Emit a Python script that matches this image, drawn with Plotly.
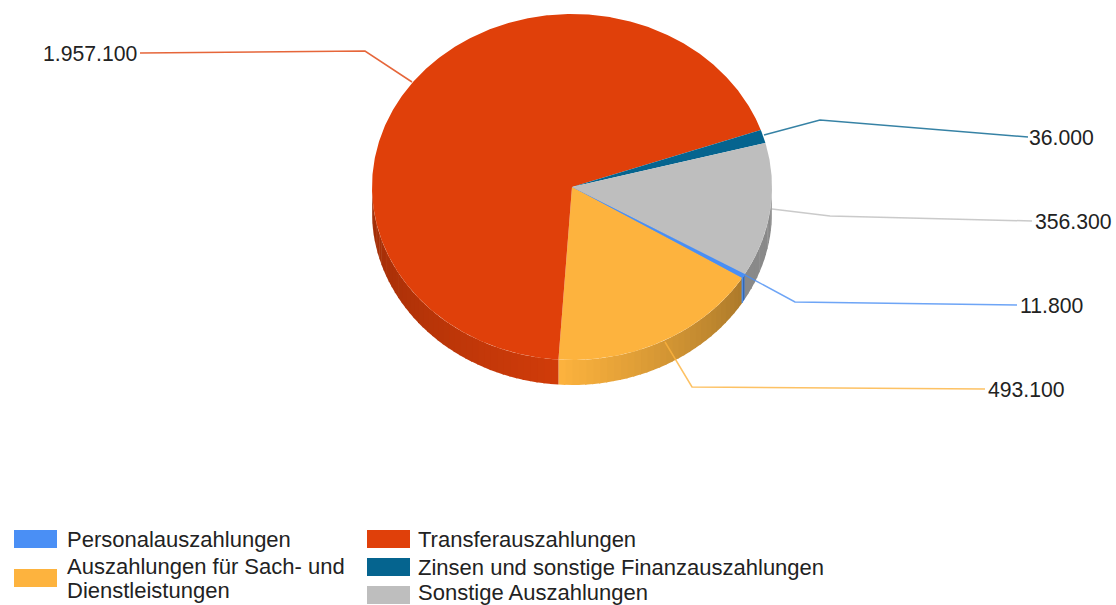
import numpy as np
import plotly.graph_objects as go

categories = ["Personalauszahlungen", "Auszahlungen für Sach- und<br>Dienstleistungen",
              "Transferauszahlungen", "Zinsen und sonstige Finanzauszahlungen", "Sonstige Auszahlungen"]
values = [11800, 493100, 1957100, 36000, 356300]
value_labels = ["11.800", "493.100", "1.957.100", "36.000", "356.300"]
colors = ["#4A8FF5", "#FDB33E", "#E0400A", "#05648F", "#BEBEBE"]

# pie geometry (axis units = pixels)
CX, CY, RX, RY, DEPTH, START = 572, 187, 200, 173, 25, 30.2
FONT = "Liberation Sans"
LABEL_SIZE = 21.2
LEGEND_SIZE = 22

leaders = [
    [(745, 275), (795, 302), (1017, 305)],
    [(665, 342), (692, 387), (985, 389)],
    [(412, 82), (365, 51), (140, 53)],
    [(764, 135), (820, 120), (1028, 137)],
    [(772, 209), (830, 216), (1032, 221)],
]
label_anchor = [(1018, 305, "left"), (986, 389, "left"), (139, 53, "right"), (1027, 137, "left"), (1033, 221, "left")]
# swatch x, swatch y, text x, text y of each line
legend_rows = [(14, 530, 65, [539]), (14, 569, 65, [566, 590]), (367, 530, 416, [539]),
               (367, 558, 416, [567]), (367, 586, 416, [592.5])]
# wall brightness at the slice's first and last wall angle
wall_shade = [(0.72, 0.72), (0.68, 1.0), (0.93, 0.70), (0.70, 0.70), (0.72, 0.72)]


def shade(hex_color, f):
    r, g, b = int(hex_color[1:3], 16), int(hex_color[3:5], 16), int(hex_color[5:7], 16)
    return f"rgb({r*f:.0f},{g*f:.0f},{b*f:.0f})"


def ex(a):
    return CX + RX * np.cos(np.radians(a))


def ey(a):
    return CY + RY * np.sin(np.radians(a))


fracs = np.array(values) / sum(values)
edges = START + np.concatenate([[0], np.cumsum(fracs)]) * 360

fig = go.Figure()

# side wall, drawn first: strips shaded along the arc
for i, (a0, a1) in enumerate(zip(edges[:-1], edges[1:])):
    for offset in (0, 360):
        lo, hi = max(a0, offset), min(a1, offset + 180)
        if hi <= lo:
            continue
        n = max(1, int((hi - lo) / 2))
        steps = np.linspace(lo, hi, n + 1)
        for k, (s0, s1) in enumerate(zip(steps[:-1], steps[1:])):
            t = (k + 0.5) / n
            f = wall_shade[i][0] + (wall_shade[i][1] - wall_shade[i][0]) * t
            arc = np.linspace(s0, min(s1 + 0.4, hi), 5)
            xs = np.concatenate([ex(arc), ex(arc[::-1])])
            ys = np.concatenate([ey(arc), ey(arc[::-1]) + DEPTH])
            fig.add_trace(go.Scatter(x=xs, y=ys, mode="lines", fill="toself", fillcolor=shade(colors[i], f),
                                     line=dict(width=0), hoverinfo="skip", showlegend=False))

# top face
for i, (a0, a1) in enumerate(zip(edges[:-1], edges[1:])):
    arc = np.linspace(a0, a1, max(3, int(a1 - a0) * 2))
    xs = np.concatenate([[CX], ex(arc), [CX]])
    ys = np.concatenate([[CY], ey(arc), [CY]])
    fig.add_trace(go.Scatter(x=xs, y=ys, mode="lines", fill="toself", fillcolor=colors[i],
                             line=dict(width=1.2 if i == 0 else 0, color=colors[i]),
                             name=categories[i].replace("<br>", " "), text=value_labels[i],
                             hoverinfo="name+text", showlegend=False))

# blue edge on the wall
a_blue = edges[1]
fig.add_trace(go.Scatter(x=[ex(a_blue), ex(a_blue)], y=[ey(a_blue), ey(a_blue) + DEPTH], mode="lines",
                         line=dict(color=colors[0], width=1.2), hoverinfo="skip", showlegend=False))

# leader lines
for i, pts in enumerate(leaders):
    fig.add_trace(go.Scatter(x=[p[0] for p in pts], y=[p[1] for p in pts], mode="lines",
                             line=dict(color=colors[i], width=1.5), opacity=0.8,
                             hoverinfo="skip", showlegend=False))

annotations = []
for (x, y, anchor), txt in zip(label_anchor, value_labels):
    annotations.append(dict(x=x, y=y, text=txt, showarrow=False, xanchor=anchor, yanchor="middle",
                            font=dict(family=FONT, size=LABEL_SIZE, color="#222222")))

shapes = []
for (sx, sy, tx, tys), cat, col in zip(legend_rows, categories, colors):
    shapes.append(dict(type="rect", x0=sx, x1=sx + 43, y0=sy, y1=sy + 18, fillcolor=col, line=dict(width=0), layer="below"))
    for ty, line in zip(tys, cat.split("<br>")):
        annotations.append(dict(x=tx, y=ty, text=line, showarrow=False, xanchor="left", yanchor="middle", align="left",
                                font=dict(family=FONT, size=LEGEND_SIZE, color="#222222")))

fig.update_layout(
    width=1116, height=605, margin=dict(l=0, r=0, t=0, b=0),
    paper_bgcolor="white", plot_bgcolor="white", showlegend=False,
    xaxis=dict(range=[0, 1116], visible=False, fixedrange=True),
    yaxis=dict(range=[605, 0], visible=False, fixedrange=True),
    annotations=annotations, shapes=shapes,
)
fig.write_html("out.html", config=dict(displayModeBar=False),
               post_script="document.body.style.margin='0';document.body.style.overflow='hidden';")
